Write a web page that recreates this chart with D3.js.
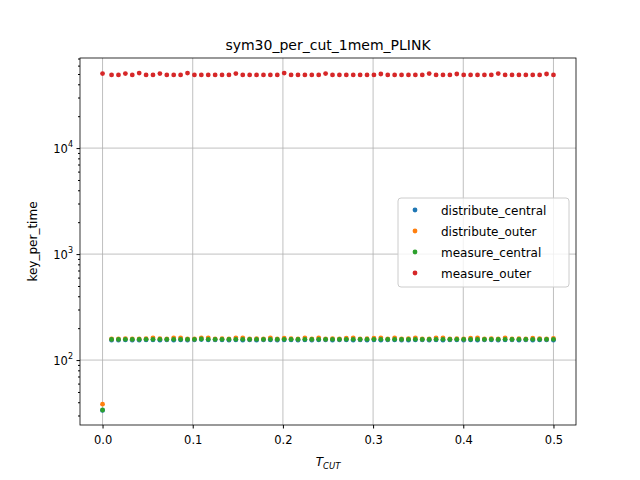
<!DOCTYPE html>
<html><head><meta charset="utf-8">
<script src="https://cdn.jsdelivr.net/npm/d3@7"></script>
<style>body{margin:0;background:#fff}text{font-family:"DejaVu Sans",sans-serif}</style>
</head><body><div id="content"></div>
<script>
var width = 640, height = 480
var m = {left: 80, right: 576, top: 58, bottom: 425}

// x: 0 followed by 65 cut values between 0.01 and 0.5
var xs = [0].concat(d3.range(65).map(function(i){ return 0.01 + i * 0.49 / 64 }))

var distCentral = [33.5,154,154,155,154,154,155,155,154,155,154,155,154,155,156,155,155,155,154,155,154,155,154,155,155,154,155,155,154,155,154,155,155,154,155,155,154,155,154,155,154,155,155,154,154,155,155,154,155,154,155,155,154,155,154,155,155,154,155,155,154,155,154,155,155,154]
var distOuter = [38.4,158,158,159,158,158,159,162,159,158,162,162,158,158,162,162,158,159,158,162,162,158,159,158,162,158,161,159,158,162,158,162,158,159,158,161,162,158,159,161,162,158,162,158,159,162,158,158,162,162,158,159,158,161,162,158,159,158,162,158,159,158,161,159,158,160]
var measCentral = [33.8,157,157,157,157,157,157,157,157,157,157,157,157,157,158,157,157,157,157,157,157,157,157,157,157,157,157,157,157,157,157,157,157,157,157,157,157,157,157,157,157,157,157,157,157,157,157,157,157,157,157,157,157,157,157,157,157,157,157,157,157,157,157,157,157,157]
var measOuter = [50500,49000,49000,50500,49000,51000,49000,49000,50500,49000,49000,49000,51000,49000,49000,49000,49000,49000,49000,50500,49000,49000,49000,49000,49000,49000,51000,49000,49000,49000,49000,49000,50500,49000,49000,49000,49000,49000,49000,49000,50000,49000,49000,49000,49000,49000,49000,50500,49000,49000,49000,50000,49000,49000,49000,49000,49000,50500,49000,49000,49000,49000,49000,49000,50000,49000]

var series = [
  {name: 'distribute_central', color: '#1f77b4', values: distCentral},
  {name: 'distribute_outer', color: '#ff7f0e', values: distOuter},
  {name: 'measure_central', color: '#2ca02c', values: measCentral},
  {name: 'measure_outer', color: '#d62728', values: measOuter}
]
var xTicks = [0, 0.1, 0.2, 0.3, 0.4, 0.5]
var yTicks = [100, 1000, 10000]

var svg = d3.select('#content').append('svg').attr('width', width).attr('height', height)
var x = d3.scaleLinear().domain([-0.025, 0.525]).range([m.left, m.right])
var y = d3.scaleLog().domain([24.4, 70800]).range([m.bottom, m.top])

// grid
svg.selectAll('.gx').data(xTicks).enter().append('line')
  .attr('x1', d => x(d)).attr('x2', d => x(d)).attr('y1', m.top).attr('y2', m.bottom)
  .attr('stroke', '#b0b0b0').attr('stroke-width', 0.8)
svg.selectAll('.gy').data(yTicks).enter().append('line')
  .attr('y1', d => y(d)).attr('y2', d => y(d)).attr('x1', m.left).attr('x2', m.right)
  .attr('stroke', '#b0b0b0').attr('stroke-width', 0.8)

// points
series.forEach(function(s){
  svg.append('g').selectAll('circle').data(s.values).enter().append('circle')
    .attr('cx', (d, i) => x(xs[i])).attr('cy', d => y(d)).attr('r', 2.4).attr('fill', s.color)
})

// axes
var xa = svg.append('g').attr('transform', 'translate(0,' + m.bottom + ')')
  .call(d3.axisBottom(x).tickValues(xTicks).tickFormat(d3.format('.1f')).tickSizeOuter(0).tickSize(3.5))
xa.selectAll('text').attr('font-size', 11.5).attr('dy', '1.1em').attr('fill', '#000')
var minor = []
;[10, 100, 1000, 10000].forEach(function(b){ for (var k = 2; k < 10; k++) if (b*k > 24.4 && b*k < 70800) minor.push(b*k) })
svg.append('g').attr('transform', 'translate(' + m.left + ',0)')
  .call(d3.axisLeft(y).tickValues(minor).tickFormat('').tickSize(2).tickSizeOuter(0))
svg.append('g').attr('transform', 'translate(' + m.left + ',0)')
  .call(d3.axisLeft(y).tickValues(yTicks).tickFormat('').tickSize(3.5).tickSizeOuter(0))
yTicks.forEach(function(t){
  var e = Math.round(Math.log10(t))
  var g = svg.append('text').attr('x', m.left - 7).attr('y', y(t) + 5).attr('text-anchor', 'end').attr('font-size', 11.5)
  g.append('tspan').text('10')
  g.append('tspan').attr('dy', -6).attr('font-size', 8).text(e)
})
svg.selectAll('.domain').remove()
svg.append('rect').attr('x', m.left).attr('y', m.top).attr('width', m.right - m.left).attr('height', m.bottom - m.top)
  .attr('fill', 'none').attr('stroke', '#000').attr('stroke-width', 0.8)

// labels
svg.append('text').attr('x', (m.left + m.right) / 2).attr('y', 50).attr('text-anchor', 'middle').attr('font-size', 14).text('sym30_per_cut_1mem_PLINK')
var xl = svg.append('text').attr('x', (m.left + m.right) / 2).attr('y', 466).attr('text-anchor', 'middle').attr('font-size', 12)
xl.append('tspan').attr('font-style', 'italic').text('T')
xl.append('tspan').attr('dy', 3).attr('font-size', 8.5).attr('font-style', 'italic').text('CUT')
svg.append('text').attr('transform', 'translate(37,' + ((m.top + m.bottom) / 2) + ') rotate(-90)')
  .attr('text-anchor', 'middle').attr('font-size', 12).text('key_per_time')

// legend
var lg = svg.append('g').attr('transform', 'translate(398,198)')
lg.append('rect').attr('width', 171).attr('height', 89).attr('rx', 3).attr('fill', '#fff').attr('fill-opacity', 0.8).attr('stroke', '#ccc')
series.forEach(function(s, i){
  lg.append('circle').attr('cx', 17).attr('cy', 12 + i * 21).attr('r', 2.4).attr('fill', s.color)
  lg.append('text').attr('x', 43).attr('y', 17 + i * 21).attr('font-size', 12).text(s.name)
})
</script></body></html>
